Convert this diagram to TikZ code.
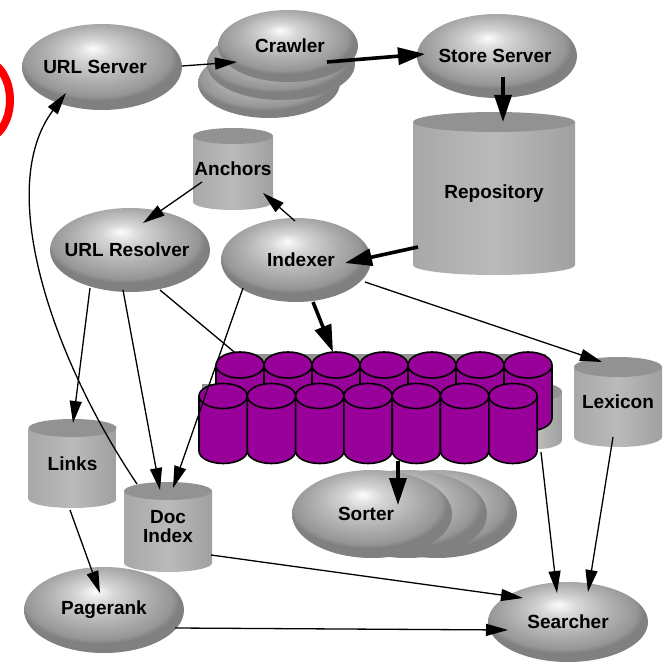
\documentclass[tikz,border=0pt]{standalone}
\usepackage{fontspec}
\setmainfont{Liberation Sans}
\usetikzlibrary{arrows.meta,shapes.geometric}

% palette
\definecolor{ellhi}{RGB}{252,252,252}
\definecolor{ellsoft}{RGB}{214,214,214}
\definecolor{ellbody}{RGB}{178,178,178}
\definecolor{ellshade}{RGB}{150,150,150}
\definecolor{elledge}{RGB}{128,128,128}
\definecolor{cylL}{RGB}{168,168,168}
\definecolor{cylM}{RGB}{186,186,186}
\definecolor{cylR}{RGB}{160,160,160}
\definecolor{cylcap}{RGB}{146,146,146}
\definecolor{barrelfill}{RGB}{153,0,153}

% shaded egg look for the process ellipses
\pgfdeclareradialshading{grayball}{\pgfpoint{-3bp}{11bp}}{%
  color(0bp)=(ellhi); color(6bp)=(ellsoft); color(15bp)=(ellbody);
  color(23bp)=(ellshade); color(25bp)=(elledge); color(50bp)=(elledge)}

\newcommand\lbl{\fontsize{19}{19}\selectfont\bfseries}
% zero-width label so the ellipse size comes from minimum width/height only
\newcommand\ztext[1]{\makebox[0pt]{#1}}

\tikzset{
  proc/.style={ellipse, shade, shading=grayball, inner sep=0pt, font=\lbl},
  store/.style={rectangle, inner sep=0pt, font=\lbl, align=center},
  thinarr/.style={line width=1.3pt, -{Triangle[length=22pt,width=12pt]}},
  thickarr/.style={line width=3.6pt, -{Triangle[length=27pt,width=17pt]}},
  plainline/.style={line width=1.3pt},
  barrel/.style={fill=barrelfill, draw=black, line width=1.6pt},
}

% gray data store: name, cx, cap y, bottom y, rx, ry, text
\newcommand\graycyl[7]{%
  \shade[left color=cylL, right color=cylR, middle color=cylM]
    ({#2-#5},#3) -- ({#2-#5},#4)
    arc[start angle=180, end angle=360, x radius=#5pt, y radius=#6pt]
    -- ({#2+#5},#3) -- cycle;
  \fill[cylcap] (#2,#3) ellipse[x radius=#5pt, y radius=#6pt];
  \node[store, minimum width={2*#5pt}, minimum height={(#4-#3+2*#6)*1pt}]
    (#1) at (#2,{(#3+#4)/2}) {#7};
}

% purple barrel: cx, cap y, bottom y, rx, ry
\newcommand\barrelcyl[5]{%
  \filldraw[barrel] ({#1-#4},#2) -- ({#1-#4},#3)
    arc[start angle=180, end angle=360, x radius=#4pt, y radius=#5pt]
    -- ({#1+#4},#2);
  \filldraw[barrel] (#1,#2) ellipse[x radius=#4pt, y radius=#5pt];
}

\begin{document}
\begin{tikzpicture}[x=1pt, y=-1pt]
\useasboundingbox[fill=white] (0,0) rectangle (667,663);

% red mark at the left border
\begin{scope}
  \clip (0,0) rectangle (667,663);
  \draw[red, line width=8pt] (-18,100) ellipse[x radius=28pt, y radius=40pt];
\end{scope}

% crawlers (stacked)
\node[proc, minimum width=142pt, minimum height=70pt] (crawler3) at (269,83) {};
\node[proc, minimum width=148pt, minimum height=72pt] (crawler2) at (281,64) {};
\node[proc, minimum width=140pt, minimum height=72pt] (crawler) at (288,46) {\ztext{\kern4pt Crawler}};

\node[proc, minimum width=160pt, minimum height=86pt] (urlserver) at (102,67) {\ztext{URL Server\kern14pt}};
\node[proc, minimum width=160pt, minimum height=84pt] (storeserver) at (497,56) {\ztext{Store Server\kern4pt}};

\graycyl{repository}{494}{122}{265}{81}{10}{Repository}
\graycyl{anchors}{233}{136}{202}{40}{8}{Anchors}

\node[proc, minimum width=160pt, minimum height=84pt] (urlresolver) at (130,250) {\ztext{URL Resolver\kern6pt}};
\node[proc, minimum width=150pt, minimum height=84pt] (indexer) at (296,260) {\ztext{\kern10pt Indexer}};

% link from the resolver that disappears behind the barrels
\draw[plainline] ([shift={(30,40)}]urlresolver.center) -- (245,361) coordinate (barrelsback);

% barrels
\fill[cylcap] (226,354) rectangle (546,385);
\fill[cylcap] (202,384) rectangle (230,396);
\shade[left color=cylL, right color=cylR, middle color=cylM]
  (514,392) -- (514,440) arc[start angle=180, end angle=360, x radius=24pt, y radius=9pt]
  -- (562,392) -- cycle;
\fill[cylcap] (538,392) ellipse[x radius=24pt, y radius=9pt];
\foreach \i in {0,...,6} {\barrelcyl{240+48*\i}{365}{418}{24}{13}}
\foreach \i in {0,...,6} {\barrelcyl{223.15+48.3*\i}{396}{451}{24.15}{12.5}}
\node[inner sep=0pt, minimum width=353pt, minimum height=111pt] (barrels) at (375.5,407.5) {};

\graycyl{lexicon}{618}{367}{437}{44}{10}{Lexicon}
\graycyl{links}{72.5}{428}{499}{44}{9}{Links}
\graycyl{docindex}{168}{491}{563}{44}{9}{Doc\\Index}

% sorters (stacked)
\node[proc, minimum width=160pt, minimum height=88pt] (sorter3) at (437,514) {};
\node[proc, minimum width=160pt, minimum height=88pt] (sorter2) at (407,514) {};
\node[proc, minimum width=160pt, minimum height=88pt] (sorter) at (372,514) {\ztext{Sorter\kern12pt}};

\node[proc, minimum width=160pt, minimum height=86pt] (pagerank) at (104,610) {\ztext{Pagerank}};
\node[proc, minimum width=160pt, minimum height=80pt] (searcher) at (568,622) {\ztext{Searcher}};

% connectors
\draw[thinarr] ([shift={(80,-1)}]urlserver.center) -- ([shift={(-51,16)}]crawler.center);
\draw[thickarr] ([shift={(39,16)}]crawler.center) -- ([shift={(-72,-2)}]storeserver.center);
\draw[thickarr] ([shift={(6,21)}]storeserver.center) -- ([shift={(9,-71.5)}]repository.center);
\draw[thickarr] ([shift={(-76,53.5)}]repository.center) -- ([shift={(49,3)}]indexer.center);
\draw[thinarr] ([shift={(-1,-39)}]indexer.center) -- ([shift={(30,24)}]anchors.center);
\draw[thinarr] ([shift={(-31,13)}]anchors.center) -- ([shift={(13,-27)}]urlresolver.center);
\draw[thinarr] ([shift={(-40,38)}]urlresolver.center) -- ([shift={(0.5,-40.5)}]links.center);
\draw[thinarr] ([shift={(-7,40)}]urlresolver.center) -- ([shift={(-8,-37)}]docindex.center);
\draw[thinarr] ([shift={(-53,28)}]indexer.center) -- ([shift={(5,-39)}]docindex.center);
\draw[thickarr] ([shift={(17,42)}]indexer.center) -- ([shift={(-42.5,-55.5)}]barrels.center);
\draw[thinarr] ([shift={(69,22)}]indexer.center) -- ([shift={(-16,-40)}]lexicon.center);
\draw[thinarr] ([shift={(-5,35)}]lexicon.center) -- ([shift={(20,-30)}]searcher.center);
\draw[thinarr] ([shift={(165.5,44.5)}]barrels.center) -- ([shift={(-11,-29)}]searcher.center);
\draw[thickarr] ([shift={(22.5,53.5)}]barrels.center) -- ([shift={(26,-9)}]sorter.center);
\draw[thinarr] ([shift={(-2.5,46.5)}]links.center) -- ([shift={(-4,-17)}]pagerank.center);
\draw[thinarr] ([shift={(43,28)}]docindex.center) -- ([shift={(-45,-24)}]searcher.center);
\draw[thinarr] ([shift={(71,18)}]pagerank.center) -- ([shift={(-60,8)}]searcher.center);
\draw[thinarr] ([shift={(-31,-43)}]docindex.center)
  .. controls (53,359) and (-6,189) .. ([shift={(-36,26)}]urlserver.center);
\end{tikzpicture}
\end{document}
